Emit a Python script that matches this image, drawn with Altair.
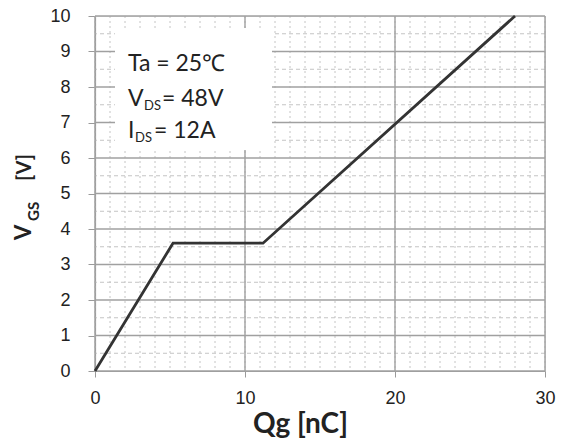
import altair as alt
import pandas as pd

# ---- data ----
qg = [0, 5.2, 11.2, 28]          # gate charge [nC]
vgs = [0, 3.6, 3.6, 10]          # gate-source voltage [V]
x_major = [0, 10, 20, 30]
y_major = [0, 1, 2, 3, 4, 5, 6, 7, 8, 9, 10]
x_minor = [0, 1, 2, 3, 4, 5, 6, 7, 8, 9, 10, 11, 12, 13, 14, 15, 16, 17, 18, 19,
           20, 21, 22, 23, 24, 25, 26, 27, 28, 29, 30]
y_minor = [0.5, 1.5, 2.5, 3.5, 4.5, 5.5, 6.5, 7.5, 8.5, 9.5]

W, H = 450, 355
XS = alt.Scale(domain=[0, 30], nice=False, zero=False)
YS = alt.Scale(domain=[0, 10], nice=False, zero=False)

TXT = "Lato"
NUM = "Liberation Sans"

x_axis = alt.Axis(values=x_major, grid=False, domainColor="#9a9a9a", domainWidth=1.2,
                  tickColor="#9a9a9a", tickSize=6, labelFont=NUM, labelFontSize=18,
                  labelColor="#222222", labelPadding=12, labelFlush=False,
                  title="Qg [nC]",
                  titleFont=TXT, titleFontSize=28, titleFontWeight="bold",
                  titleColor="#222222", titleX=205, titleY=61,
                  titleBaseline="alphabetic", titleAlign="center")
y_axis = alt.Axis(values=y_major, grid=False, domainColor="#9a9a9a", domainWidth=1.2,
                  tickColor="#9a9a9a", tickSize=7, labelFont=NUM, labelFontSize=18,
                  labelColor="#222222", labelPadding=18, labelFlush=False, title=None)

minor_v = alt.Chart(pd.DataFrame({"x": x_minor})).mark_rule(
    color="#c4c4c4", strokeWidth=1, strokeDash=[2, 3]
).encode(x=alt.X("x:Q", scale=XS, axis=x_axis))

minor_h = alt.Chart(pd.DataFrame({"y": y_minor})).mark_rule(
    color="#c4c4c4", strokeWidth=1, strokeDash=[4, 3]
).encode(y=alt.Y("y:Q", scale=YS, axis=y_axis))

major_v = alt.Chart(pd.DataFrame({"x": x_major})).mark_rule(
    color="#a0a0a0", strokeWidth=1.4
).encode(x=alt.X("x:Q", scale=XS, axis=x_axis))

major_h = alt.Chart(pd.DataFrame({"y": y_major})).mark_rule(
    color="#a0a0a0", strokeWidth=1.4
).encode(y=alt.Y("y:Q", scale=YS, axis=y_axis))

box = alt.Chart().mark_rect(color="white").encode(
    x=alt.value(20), x2=alt.value(177), y=alt.value(12), y2=alt.value(134)
)

def txt(t, x, y, size, weight="normal", angle=0):
    kw = dict(text=t, font=TXT, fontSize=size, fontWeight=weight, color="#222222",
              align="left", baseline="alphabetic")
    if angle:
        kw["angle"] = angle
    return alt.Chart().mark_text(**kw).encode(x=alt.value(x), y=alt.value(y))

ann = [
    txt("Ta = 25\u2103", 33, 55, 23),
    txt("V", 33, 90, 23),
    txt("DS", 49, 94, 13),
    txt("= 48V", 67, 90, 23),
    txt("I", 33, 122, 23),
    txt("DS", 40, 126, 13),
    txt("= 12A", 59, 122, 23),
    # rotated y-axis title: V_GS [V]
    txt("V", -64, 224, 22, "bold", 270),
    txt("GS", -56, 205, 15, "bold", 270),
    txt("[V]", -64, 165, 20, "bold", 270),
]

line = alt.Chart(pd.DataFrame({"qg": qg, "vgs": vgs})).mark_line(
    color="#333333", strokeWidth=2.8
).encode(
    x=alt.X("qg:Q", scale=XS, axis=x_axis),
    y=alt.Y("vgs:Q", scale=YS, axis=y_axis),
    order=alt.Order("qg:Q"),
)

chart = alt.layer(minor_v, minor_h, major_v, major_h, box, *ann, line).properties(
    width=W, height=H,
    autosize=alt.AutoSizeParams(type="none"),
    padding={"left": 95, "top": 16, "right": 20, "bottom": 70},
).configure_view(stroke=None).configure(background="white")

chart.save("out.html", embed_options={"renderer": "svg", "actions": False})
